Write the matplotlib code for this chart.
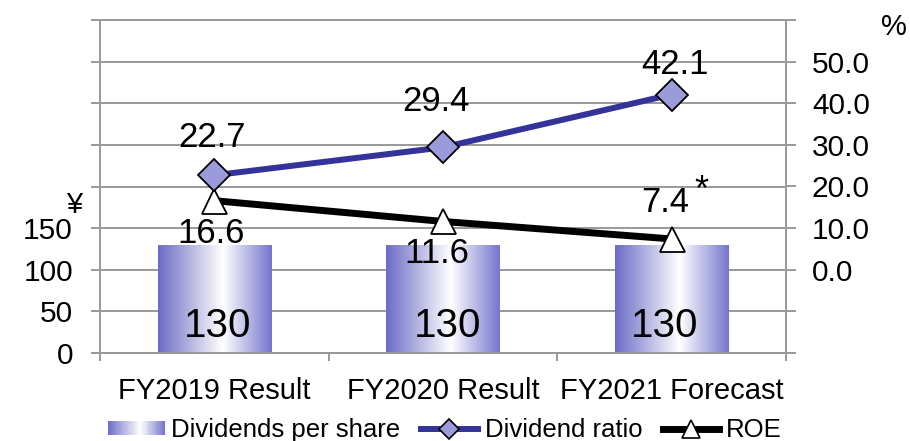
import numpy as np
import matplotlib
matplotlib.use("Agg")
import matplotlib.pyplot as plt
from matplotlib.colors import LinearSegmentedColormap
from matplotlib.patches import Rectangle
from matplotlib.lines import Line2D
from matplotlib.legend_handler import HandlerBase

# ---- data -------------------------------------------------------------
categories = ["FY2019 Result", "FY2020 Result", "FY2021 Forecast"]
dividends = [130, 130, 130]            # yen per share (left axis)
dividend_ratio = [22.7, 29.4, 42.1]    # % (right axis)
roe = [16.6, 11.6, 7.4]                # % (right axis)
roe_notes = ["", "", "*"]

left_ticks = list(range(0, 401, 50))
left_labelled_max = 150
right_ticks = list(range(-20, 61, 10))
right_labelled = (0, 50)

# ---- style --------------------------------------------------------------
plt.rcParams["font.family"] = ["Liberation Sans", "DejaVu Sans"]
GRID = "#999999"
NAVY = "#333399"
DIAMOND_FILL = "#9B9BDC"
PX = 0.72  # points per pixel at 100 dpi

bar_cmap = LinearSegmentedColormap.from_list(
    "bar_grad", [(0.0, "#6C6CC6"), (0.57, "#FFFFFF"), (1.0, "#7676CE")])

# label offsets in pixels (dx, dy to baseline)
ratio_offsets = [(-2, 28), (-7, 36), (3, 21)]
roe_offsets = [(-3, -42), (-6, -42), (-6, 27)]
bar_label_offsets = [(3, 16), (5, 16), (-7, 16)]

fig = plt.figure(figsize=(9.1, 4.41), dpi=100)
ax = fig.add_axes([100 / 910, 88 / 441, 686 / 910, 333 / 441])
ax2 = ax.twinx()

x = np.arange(len(categories))

# ---- gradient bars ----------------------------------------------------
bars = ax.bar(x, dividends, width=0.495, color="none", edgecolor="none", zorder=2)
grad = np.linspace(0, 1, 256).reshape(1, -1)
for b in bars:
    x0, y0, w, h = b.get_x(), b.get_y(), b.get_width(), b.get_height()
    im = ax.imshow(grad, cmap=bar_cmap, extent=(x0, x0 + w, y0, y0 + h),
                   aspect="auto", zorder=2, interpolation="bicubic")
    im.set_clip_path(b)

for xi, v, (dx, dy) in zip(x, dividends, bar_label_offsets):
    ax.annotate(f"{v}", xy=(xi, 0), xytext=(dx * PX, dy * PX),
                textcoords="offset points", ha="center", va="baseline",
                fontsize=29, zorder=6)

# ---- left axis ----------------------------------------------------------
ax.set_xlim(-0.5, len(categories) - 0.5)
ax.set_ylim(left_ticks[0], left_ticks[-1])
ax.set_yticks(left_ticks)
ax.set_yticklabels([str(v) if v <= left_labelled_max else "" for v in left_ticks])
ax.tick_params(axis="y", direction="out", length=9 * PX, width=1.4,
               color=GRID, labelsize=21.5, pad=13)
ax.set_xticks(x)
ax.set_xticklabels(categories)
ax.set_xticks(np.arange(-0.5, len(categories), 1.0), minor=True)
ax.tick_params(axis="x", which="major", length=0, labelsize=21, pad=17)
ax.tick_params(axis="x", which="minor", direction="out", length=8 * PX,
               width=1.4, color=GRID)
ax.yaxis.grid(True, color=GRID, linewidth=1.4)
ax.set_axisbelow(True)
for side in ("left", "bottom", "top"):
    ax.spines[side].set_color(GRID)
    ax.spines[side].set_linewidth(1.4)
ax.spines["right"].set_visible(False)

# ---- right axis: lines ----------------------------------------------------
ax2.set_ylim(right_ticks[0], right_ticks[-1])
ax2.set_yticks(right_ticks)
ax2.set_yticklabels([f"{v:.1f}" if right_labelled[0] <= v <= right_labelled[1] else ""
                     for v in right_ticks])
ax2.tick_params(axis="y", direction="out", length=10 * PX, width=1.4,
                color=GRID, labelsize=21.5, pad=11.5)
for side in ("left", "bottom", "top"):
    ax2.spines[side].set_visible(False)
ax2.spines["right"].set_color(GRID)
ax2.spines["right"].set_linewidth(1.4)

ax2.plot(x, roe, color="black", lw=5, marker="^", ms=18, mfc="white",
         mec="black", mew=1.3, zorder=4, solid_capstyle="butt")
ax2.plot(x, dividend_ratio, color=NAVY, lw=4.3, marker="D", ms=16,
         mfc=DIAMOND_FILL, mec="black", mew=1.3, zorder=5, solid_capstyle="butt")

for xi, v, (dx, dy) in zip(x, dividend_ratio, ratio_offsets):
    ax2.annotate(f"{v:.1f}", xy=(xi, v), xytext=(dx * PX, dy * PX),
                 textcoords="offset points", ha="center", va="baseline",
                 fontsize=25, zorder=7)
for xi, v, note, (dx, dy) in zip(x, roe, roe_notes, roe_offsets):
    ax2.annotate(f"{v:.1f}", xy=(xi, v), xytext=(dx * PX, dy * PX),
                 textcoords="offset points", ha="center", va="baseline",
                 fontsize=25, zorder=7)
    if note:
        ax2.annotate(note, xy=(xi, v), xytext=(30 * PX, 38 * PX),
                     textcoords="offset points", ha="center", va="baseline",
                     fontsize=26, zorder=7)

# ---- unit labels ----------------------------------------------------------
fig.text(74 / 910, 1 - 213 / 441, "¥", ha="center", va="baseline", fontsize=21)
fig.text(894 / 910, 1 - 35 / 441, "%", ha="center", va="baseline", fontsize=21)


# ---- legend ---------------------------------------------------------------
class GradientHandler(HandlerBase):
    def create_artists(self, legend, orig_handle, xdescent, ydescent,
                       width, height, fontsize, trans):
        n = 48
        arts = []
        for k in range(n):
            arts.append(Rectangle((-xdescent + width * k / n, -ydescent),
                                  width / n * 1.05, height,
                                  facecolor=bar_cmap((k + 0.5) / n),
                                  edgecolor="none", transform=trans))
        return arts


bar_proxy = Rectangle((0, 0), 1, 1)
ratio_proxy = Line2D([], [], color=NAVY, lw=4.3, marker="D", ms=10,
                     mfc=DIAMOND_FILL, mec="black", mew=1.2)
roe_proxy = Line2D([], [], color="black", lw=5, marker="^", ms=13,
                   mfc="white", mec="black", mew=1.2)
fig.legend([bar_proxy, ratio_proxy, roe_proxy],
           ["Dividends per share", "Dividend ratio", "ROE"],
           handler_map={Rectangle: GradientHandler()},
           loc="center", bbox_to_anchor=(445 / 910, 1 - 430 / 441),
           ncol=3, frameon=False, fontsize=18.5, handlelength=2.2,
           handleheight=0.5, handletextpad=0.27, columnspacing=0.8,
           borderpad=0, borderaxespad=0)

fig.savefig("out.png", dpi=100)
